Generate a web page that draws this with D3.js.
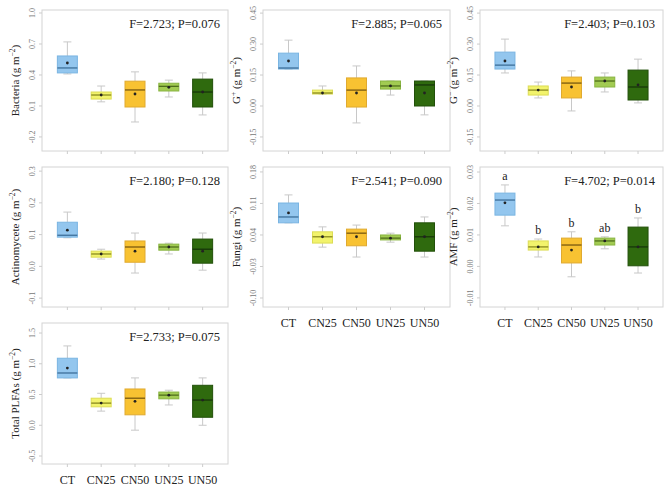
<!DOCTYPE html>
<html><head><meta charset="utf-8">
<script src="https://cdn.jsdelivr.net/npm/d3@7/dist/d3.min.js"></script>
<style>body{margin:0;background:#fff}svg{display:block}</style>
</head><body>
<svg id="c" width="664" height="490"></svg>
<script>
// categories
const categories = ["CT","CN25","CN50","UN25","UN50"];
// each row: [min, q1, median, q3, max, mean]
const bacteria = [[0.41,0.42,0.468,0.584,0.72,0.516],[0.14,0.167,0.206,0.235,0.293,0.206],[-0.055,0.09,0.255,0.34,0.43,0.216],[0.187,0.245,0.29,0.32,0.35,0.28],[0.013,0.09,0.235,0.36,0.42,0.235]];
const gPos = [[0.179,0.179,0.184,0.256,0.319,0.218],[0.058,0.058,0.063,0.077,0.097,0.063],[-0.082,-0.005,0.077,0.136,0.194,0.063],[0.053,0.082,0.097,0.121,0.121,0.097],[-0.043,0.0,0.102,0.121,0.121,0.063]];
const gNeg = [[0.16,0.179,0.198,0.261,0.324,0.218],[0.039,0.053,0.077,0.097,0.116,0.077],[-0.024,0.039,0.111,0.14,0.17,0.092],[0.068,0.092,0.121,0.14,0.16,0.121],[0.015,0.029,0.092,0.174,0.227,0.102]];
const actino = [[0.09,0.092,0.098,0.139,0.171,0.114],[0.023,0.029,0.039,0.048,0.054,0.039],[-0.021,0.013,0.061,0.08,0.105,0.048],[0.039,0.051,0.061,0.07,0.073,0.061],[-0.012,0.01,0.054,0.086,0.105,0.048]];
const fungi = [[0.067,0.067,0.08,0.111,0.129,0.089],[0.013,0.022,0.036,0.047,0.058,0.036],[-0.009,0.016,0.044,0.053,0.062,0.036],[0.024,0.029,0.033,0.04,0.044,0.033],[-0.009,0.004,0.036,0.067,0.08,0.036]];
const amf = [[0.0129,0.0163,0.0211,0.0233,0.0259,0.0202],[0.003,0.0052,0.0062,0.0081,0.0087,0.0062],[-0.0033,0.0011,0.0068,0.009,0.011,0.0052],[0.0056,0.0068,0.0081,0.009,0.0094,0.0081],[-0.0021,0.0002,0.0062,0.0125,0.0154,0.0062]];
const plfa = [[0.77,0.77,0.85,1.09,1.29,0.93],[0.23,0.30,0.36,0.44,0.52,0.36],[-0.08,0.17,0.44,0.59,0.77,0.39],[0.33,0.43,0.49,0.54,0.57,0.49],[0.0,0.13,0.41,0.65,0.77,0.41]];
// tick labels
const bacteriaTicks = [-0.2,0.1,0.4,0.7,1.0];
const gPosTicks = [-0.15,0.00,0.15,0.30,0.45];
const gNegTicks = [-0.15,0.00,0.15,0.30,0.45];
const actinoTicks = [-0.1,0.0,0.1,0.2,0.3];
const fungiTicks = [-0.10,-0.03,0.04,0.11,0.18];
const amfTicks = [-0.01,0.00,0.01,0.02,0.03];
const plfaTicks = [-0.5,0.0,0.5,1.0,1.5];
// stats text
const stats = ["F=2.723; P=0.076","F=2.885; P=0.065","F=2.403; P=0.103","F=2.180; P=0.128","F=2.541; P=0.090","F=4.702; P=0.014","F=2.733; P=0.075"];
const amfLetters = ["a","b","b","ab","b"];

const fills = ["#93c6ee","#f2f36c","#f8c232","#a2cb52","#2f6a0e"];
const strokes = ["#7ab5e2","#dcdc55","#e0aa30","#88b440","#22500a"];
const medians = ["#3d6f99","#8a8a20","#7a5a10","#4f6e1c","#17360a"];

const svg = d3.select("#c");
const cols = [[42,228],[263,450],[480,663]];
const rows = [[10,151],[167,307],[323,464]];

const panels = [
  {data:bacteria, ticks:bacteriaTicks, dom:[-0.336,1.029], fmt:".1f", c:0, r:0, title:"Bacteria", stat:stats[0], xl:false},
  {data:gPos, ticks:gPosTicks, dom:[-0.218,0.465], fmt:".2f", c:1, r:0, title:"G", sup:"+", stat:stats[1], xl:false},
  {data:gNeg, ticks:gNegTicks, dom:[-0.218,0.465], fmt:".2f", c:2, r:0, title:"G", sup:"−", stat:stats[2], xl:false},
  {data:actino, ticks:actinoTicks, dom:[-0.128,0.313], fmt:".1f", c:0, r:1, title:"Actinomycete", stat:stats[3], xl:false},
  {data:fungi, ticks:fungiTicks, dom:[-0.12,0.191], fmt:".2f", c:1, r:1, title:"Fungi", stat:stats[4], xl:true},
  {data:amf, ticks:amfTicks, dom:[-0.0129,0.0316], fmt:".2f", c:2, r:1, title:"AMF", stat:stats[5], xl:true, letters:amfLetters},
  {data:plfa, ticks:plfaTicks, dom:[-0.63,1.663], fmt:".1f", c:0, r:2, title:"Total PLFAs", stat:stats[6], xl:true}
];

const serif = "'Liberation Serif','DejaVu Serif',serif";

panels.forEach(p => {
  const [x0,x1] = cols[p.c], [y0,y1] = rows[p.r];
  const x = d3.scalePoint().domain(categories).range([x0,x1]).padding(0.75);
  const y = d3.scaleLinear().domain(p.dom).range([y1,y0]);
  const g = svg.append("g");
  g.append("rect").attr("x",x0).attr("y",y0).attr("width",x1-x0).attr("height",y1-y0)
    .attr("fill","none").attr("stroke","#d4d4d4").attr("stroke-width",1);
  // y axis
  const fmt = d3.format(p.fmt);
  p.ticks.forEach(t => {
    g.append("line").attr("x1",x0-3).attr("x2",x0).attr("y1",y(t)).attr("y2",y(t)).attr("stroke","#ccc");
    g.append("text").attr("transform",`translate(${x0-7},${y(t)}) rotate(-90)`)
      .attr("text-anchor","middle").attr("font-family",serif).attr("font-size",8).attr("fill","#777")
      .text(fmt(t).replace("−","-"));
  });
  // x ticks
  categories.forEach(cat => {
    g.append("line").attr("x1",x(cat)).attr("x2",x(cat)).attr("y1",y1).attr("y2",y1+3).attr("stroke","#ccc");
    if (p.xl) g.append("text").attr("x",x(cat)).attr("y",y1+20).attr("text-anchor","middle")
      .attr("font-family",serif).attr("font-size",12).attr("fill","#222").text(cat);
  });
  // y title
  const tt = g.append("text").attr("transform",`translate(${x0-23},${(y0+y1)/2}) rotate(-90)`)
    .attr("text-anchor","middle").attr("font-family",serif).attr("font-size",11).attr("fill","#222");
  tt.append("tspan").text(p.title);
  if (p.sup) tt.append("tspan").attr("dy",-4).attr("font-size",7.5).text(p.sup);
  tt.append("tspan").attr("dy",p.sup?4:0).text(" (g m");
  tt.append("tspan").attr("dy",-4).attr("font-size",7.5).text("−2");
  tt.append("tspan").attr("dy",4).text(")");
  // stat
  g.append("text").attr("x",x1-8).attr("y",y0+18).attr("text-anchor","end")
    .attr("font-family",serif).attr("font-size",12.5).attr("fill","#222").text(p.stat);
  // boxes
  const bw = 20, cap = 8;
  p.data.forEach((d,i) => {
    const cx = x(categories[i]);
    const [mn,q1,md,q3,mx,mean] = d;
    g.append("line").attr("x1",cx).attr("x2",cx).attr("y1",y(mx)).attr("y2",y(q3)).attr("stroke","#c8c8c8");
    g.append("line").attr("x1",cx).attr("x2",cx).attr("y1",y(q1)).attr("y2",y(mn)).attr("stroke","#c8c8c8");
    g.append("line").attr("x1",cx-cap/2).attr("x2",cx+cap/2).attr("y1",y(mx)).attr("y2",y(mx)).attr("stroke","#c8c8c8");
    g.append("line").attr("x1",cx-cap/2).attr("x2",cx+cap/2).attr("y1",y(mn)).attr("y2",y(mn)).attr("stroke","#c8c8c8");
    g.append("rect").attr("x",cx-bw/2).attr("y",y(q3)).attr("width",bw).attr("height",Math.max(1,y(q1)-y(q3)))
      .attr("fill",fills[i]).attr("stroke",strokes[i]).attr("stroke-width",1);
    g.append("line").attr("x1",cx-bw/2).attr("x2",cx+bw/2).attr("y1",y(md)).attr("y2",y(md))
      .attr("stroke",medians[i]).attr("stroke-width",1.3);
    g.append("circle").attr("cx",cx).attr("cy",y(mean)).attr("r",1.4).attr("fill","#222");
    if (p.letters) g.append("text").attr("x",cx).attr("y",y(mx)-5).attr("text-anchor","middle")
      .attr("font-family",serif).attr("font-size",12).attr("fill","#222").text(p.letters[i]);
  });
});
</script>
</body></html>
